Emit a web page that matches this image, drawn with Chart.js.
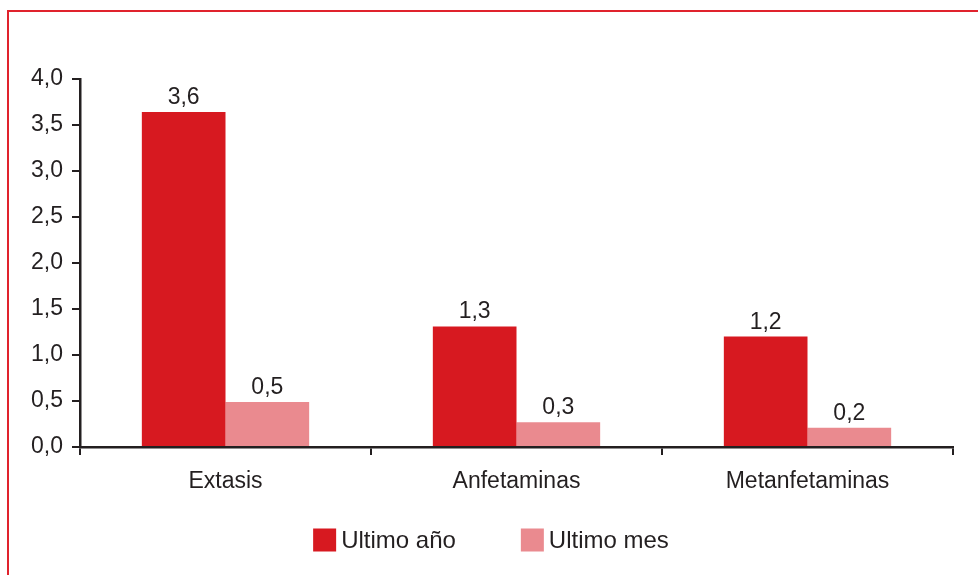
<!DOCTYPE html>
<html>
<head>
<meta charset="utf-8">
<script src="https://cdn.jsdelivr.net/npm/chart.js@4/dist/chart.umd.min.js"></script>
<style>
  html, body { margin: 0; padding: 0; background: #fff; }
  #wrap { position: relative; width: 978px; height: 575px; overflow: hidden; }
  #frame { position: absolute; left: 7px; top: 10px; width: 1000px; height: 600px; border: 2.5px solid #e0232d; box-sizing: border-box; }
  #chart { position: absolute; left: 0; top: 0; }
</style>
</head>
<body>
<div id="wrap">
  <div id="frame"></div>
  <canvas id="chart" width="978" height="575"></canvas>
</div>
<script>
const categories = ["Extasis", "Anfetaminas", "Metanfetaminas"];
const ultimoAnio = [3.64, 1.31, 1.2];
const ultimoMes = [0.49, 0.27, 0.21];
const seriesNames = ["Ultimo año", "Ultimo mes"];
const yTicks = [0, 0.5, 1, 1.5, 2, 2.5, 3, 3.5, 4];

const textColor = "#231f20";
const fontFamily = "'Liberation Sans', Arial, sans-serif";

const fmt = (v) => v.toFixed(1).replace(".", ",");

// value labels above each bar
const valueLabels = {
  id: "valueLabels",
  afterDatasetsDraw(chart) {
    const ctx = chart.ctx;
    ctx.save();
    ctx.font = "23px " + fontFamily;
    ctx.fillStyle = textColor;
    ctx.textAlign = "center";
    ctx.textBaseline = "alphabetic";
    chart.data.datasets.forEach((ds, i) => {
      chart.getDatasetMeta(i).data.forEach((bar, j) => {
        ctx.fillText(fmt(ds.data[j]), bar.x, bar.y - 8);
      });
    });
    ctx.restore();
  }
};

// legend drawn at the bottom, boxes close to the text
const bottomLegend = {
  id: "bottomLegend",
  afterDraw(chart) {
    const ctx = chart.ctx;
    ctx.save();
    ctx.font = "24px " + fontFamily;
    const box = 23, gap = 5, spacing = 65;
    const items = chart.data.datasets.map(ds => ({
      label: ds.label,
      color: ds.backgroundColor,
      w: ctx.measureText(ds.label).width
    }));
    let total = 0;
    items.forEach((it, i) => { total += box + gap + it.w + (i ? spacing : 0); });
    let x = chart.width / 2 + 2 - total / 2;
    const cy = 540;
    items.forEach(it => {
      ctx.fillStyle = it.color;
      ctx.fillRect(x, cy - box / 2, box, box);
      ctx.fillStyle = textColor;
      ctx.textBaseline = "middle";
      ctx.textAlign = "left";
      ctx.fillText(it.label, x + box + gap, cy + 1);
      x += box + gap + it.w + spacing;
    });
    ctx.restore();
  }
};

const data = {
  labels: categories,
  datasets: [
    {
      label: seriesNames[0],
      data: ultimoAnio,
      backgroundColor: "#d71920",
      categoryPercentage: 0.575,
      barPercentage: 1.0
    },
    {
      label: seriesNames[1],
      data: ultimoMes,
      backgroundColor: "#ea8a8f",
      categoryPercentage: 0.575,
      barPercentage: 1.0
    }
  ]
};

const config = {
  type: "bar",
  data: data,
  options: {
    responsive: false,
    animation: false,
    layout: {
      padding: { top: 79, right: 25, left: 0, bottom: 0 }
    },
    plugins: {
      legend: { display: false },
      tooltip: { enabled: false }
    },
    scales: {
      x: {
        afterFit: (scale) => { scale.height = 128; },
        grid: {
          offset: true,
          drawOnChartArea: false,
          drawTicks: true,
          tickLength: 8,
          color: textColor,
          lineWidth: 2
        },
        border: { display: true, color: textColor, width: 2.5 },
        ticks: {
          color: textColor,
          font: { family: fontFamily, size: 23 },
          padding: 13
        }
      },
      y: {
        min: 0,
        max: 4,
        afterFit: (scale) => { scale.width = 80; },
        afterBuildTicks: (scale) => { scale.ticks = yTicks.map(v => ({ value: v })); },
        grid: {
          drawOnChartArea: false,
          drawTicks: true,
          tickLength: 8,
          color: textColor,
          lineWidth: 2
        },
        border: { display: true, color: textColor, width: 2.5 },
        ticks: {
          color: textColor,
          font: { family: fontFamily, size: 23 },
          padding: 9,
          callback: (v) => fmt(v)
        }
      }
    }
  },
  plugins: [valueLabels, bottomLegend]
};

new Chart(document.getElementById("chart"), config);
</script>
</body>
</html>
